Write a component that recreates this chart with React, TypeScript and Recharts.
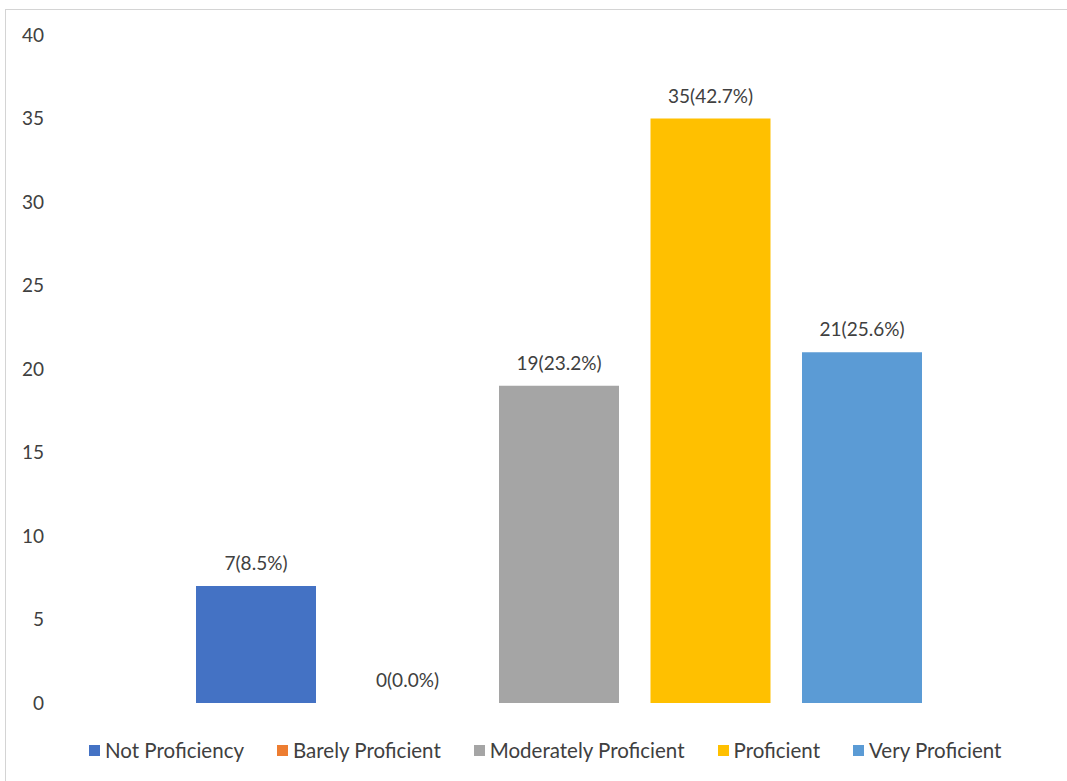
import React from 'react'
import { BarChart, Bar, XAxis, YAxis, Legend, LabelList } from 'recharts'

// survey answer groups, one bar each
const seriesNames = [
  'Not Proficiency',
  'Barely Proficient',
  'Moderately Proficient',
  'Proficient',
  'Very Proficient'
]
const counts = [7, 0, 19, 35, 21]
const percents = [8.5, 0.0, 23.2, 42.7, 25.6]
const seriesColors = ['#4472C4', '#ED7D31', '#A5A5A5', '#FFC000', '#5B9BD5']
const yTicks = [0, 5, 10, 15, 20, 25, 30, 35, 40]

const keys = seriesNames.map((_, i) => `s${i}`)
const data = [
  keys.reduce((row: any, k, i) => {
    row[k] = counts[i]
    return row
  }, { category: 'Proficiency' })
]

const FONT = 'Lato, "Open Sans", sans-serif'
const TEXT = '#404040'

const LegendContent = () => (
  <div
    style={{
      display: 'flex',
      alignItems: 'center',
      paddingLeft: 89,
      height: 26,
      fontFamily: FONT,
      fontSize: 20.5,
      color: TEXT
    }}
  >
    {seriesNames.map((name, i) => (
      <div key={name} style={{ display: 'flex', alignItems: 'center', marginRight: 33 }}>
        <span
          style={{
            display: 'inline-block',
            width: 11,
            height: 11,
            background: seriesColors[i],
            marginRight: 5
          }}
        />
        <span>{name}</span>
      </div>
    ))}
  </div>
)

export default function App() {
  return (
    <div
      style={{
        position: 'absolute',
        left: 0,
        top: 0,
        width: 1067,
        height: 781,
        background: '#fff'
      }}
    >
      {/* thin frame like the exported image */}
      <div
        style={{
          position: 'absolute',
          left: 5,
          top: 9,
          right: 0,
          bottom: 0,
          borderTop: '1px solid #d4d4d4',
          borderLeft: '1px solid #d4d4d4'
        }}
      />
      <BarChart
        width={1067}
        height={781}
        data={data}
        margin={{ top: 35, right: 5, left: 0, bottom: 52 }}
        barSize={120}
        barGap={31.5}
        style={{ position: 'absolute', left: 0, top: 0 }}
      >
        <XAxis dataKey="category" hide />
        <YAxis
          width={56}
          domain={[0, 40]}
          ticks={yTicks}
          axisLine={false}
          tickLine={false}
          tickSize={0}
          tickMargin={12}
          tick={{ fontFamily: FONT, fontSize: 19, fill: TEXT }}
        />
        <Legend
          verticalAlign="bottom"
          content={<LegendContent />}
          wrapperStyle={{ top: 737, bottom: 'auto', left: 0, width: 1067, height: 26 }}
        />
        {keys.map((k, i) => (
          <Bar
            key={k}
            dataKey={k}
            name={seriesNames[i]}
            fill={seriesColors[i]}
            minPointSize={0.01}
            isAnimationActive={false}
          >
            <LabelList
              dataKey={k}
              position="top"
              offset={16}
              formatter={() => `${counts[i]}(${percents[i].toFixed(1)}%)`}
              style={{ fontFamily: FONT, fontSize: 19, fill: TEXT }}
            />
          </Bar>
        ))}
      </BarChart>
    </div>
  )
}
